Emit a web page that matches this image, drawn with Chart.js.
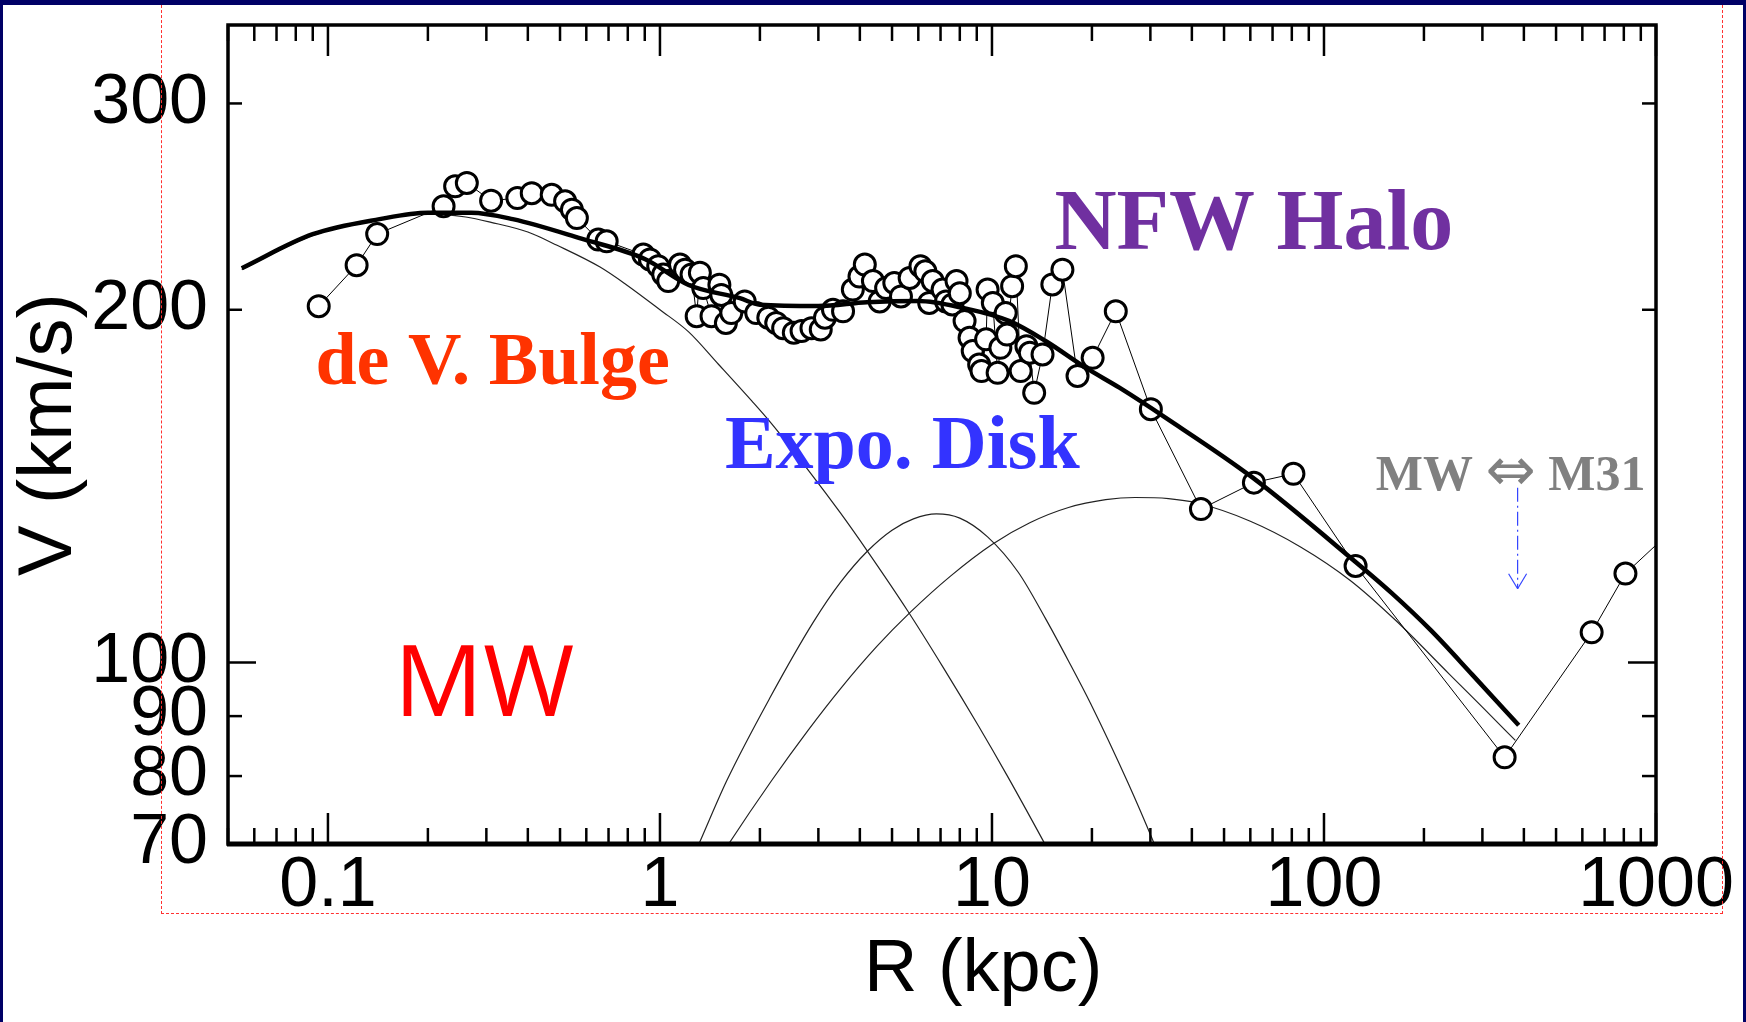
<!DOCTYPE html>
<html>
<head>
<meta charset="utf-8">
<script src="https://cdn.jsdelivr.net/npm/chart.js@4.4.1/dist/chart.umd.min.js"></script>
<style>
  html, body { margin: 0; padding: 0; background: #fff; }
  #frame { position: relative; width: 1746px; height: 1022px; overflow: hidden; background: #fff; }
  #chart { position: absolute; left: 0; top: 0; }
  .navy { position: absolute; background: #000066; }
  #dash { position: absolute; left: 161px; top: -10px; width: 1562px; height: 924px;
          border: 1px dashed #ff3030; box-sizing: border-box; pointer-events: none; }
</style>
</head>
<body>
<div id="frame">
  <canvas id="chart" width="1746" height="1022"></canvas>
  <div id="dash"></div>
  <div class="navy" style="left:0;top:0;width:1746px;height:5px"></div>
  <div class="navy" style="left:0;top:0;width:3px;height:1022px"></div>
  <div class="navy" style="right:0;top:0;width:3px;height:1022px"></div>
</div>
<script>
// observed rotation curve (R in kpc, V in km/s)
const obsR = [0.0938, 0.122, 0.1407, 0.223, 0.2416, 0.262, 0.31, 0.372, 0.411, 0.472, 0.518, 0.543, 0.562,
  0.652, 0.691, 0.891, 0.933, 0.988, 1.023, 1.059, 1.149, 1.19, 1.245, 1.29, 1.319, 1.35, 1.43, 1.51, 1.53,
  1.58, 1.64, 1.8, 1.95, 2.12, 2.24, 2.35, 2.53, 2.67, 2.86, 3.05, 3.14, 3.32, 3.56, 3.81, 3.99, 4.14, 4.38,
  4.59, 4.8, 5.08, 5.32, 5.65, 6.09, 6.3, 6.47, 6.63, 7.1, 7.27, 7.6, 7.82, 8.0, 8.27, 8.56, 8.75, 9.15, 9.3,
  9.6, 9.7, 10.06, 10.4, 10.6, 11.0, 11.1, 11.5, 11.8, 12.2, 12.7, 13.0, 13.4, 14.2, 15.2, 16.3, 18.1, 20.1,
  23.6, 30.1, 42.6, 61.5, 80.9, 124.5, 350, 640, 809, 1300];
const obsV = [201.4, 218.3, 232.1, 245.1, 254.9, 256.6, 247.8, 249.1, 251.5, 250.7, 247.5, 243.5, 239.5,
  229.6, 228.8, 222.9, 220.8, 217.9, 214.4, 211.6, 218.6, 216.4, 214.4, 197.5, 215.1, 208.7, 197.5, 210.1, 205.9,
  194.9, 198.7, 203.3, 198.7, 196.9, 194.9, 192.9, 191.2, 191.8, 192.9, 192.4, 196.9, 200.0, 199.4, 208.1, 213.5, 218.6, 211.6,
  203.3, 208.7, 210.8, 205.3, 212.9, 217.9, 215.7, 202.7, 211.6, 208.1, 203.3, 202.1, 211.6, 206.6, 195.6, 189.3, 184.4, 179.6, 177.3,
  188.7, 208.1, 202.7, 176.7, 185.6, 198.7, 190.5, 209.5, 217.9, 177.3, 186.2, 183.8, 169.9, 183.2, 210.2, 216.4, 175.6, 182,
  199.4, 164.5, 135.2, 142.4, 144.9, 120.9, 83, 106.1, 119.1, 135];

// total model curve
const totalR = [0.055, 0.09, 0.143, 0.2, 0.27, 0.36, 0.58, 0.9, 1.22, 1.74, 2.0, 3.0, 4.2, 6.0, 8.2, 11.3, 14.5,
  19.2, 24.2, 33.3, 61, 123, 160, 210, 280, 386];
const totalV = [217, 232, 239, 242, 242, 239, 230, 221, 210, 204.6, 202, 201.5, 203, 203.5, 200.7, 195.6, 188.1,
  178.4, 171.6, 161.8, 143.8, 122.2, 114.6, 106.5, 97.6, 88.4];

// components
const bulgeR = [0.055, 0.09, 0.14, 0.2, 0.26, 0.31, 0.4, 0.49, 0.66, 0.79, 1.0, 1.22, 1.5, 1.89, 2.14, 2.8, 3.5,
  4.22, 5.57, 7.15, 9.1, 11.1, 14.2, 16];
const bulgeV = [216.5, 231.5, 238.5, 241.5, 240, 237.5, 233, 227, 217.5, 210.2, 200, 191.5, 179.7, 167.2, 160.6, 145.9, 134.1,
  124.4, 110.7, 98.9, 88.3, 80.1, 70.6, 66.3];
const diskR = [1.2, 1.31, 1.59, 2.14, 2.9, 3.5, 4.22, 5.0, 5.8, 6.8, 8.0, 9.7, 12, 14.5, 17, 19.8, 25.7, 30.7, 33];
const diskV = [66.2, 70, 79.3, 93.2, 108.3, 117.1, 124.5, 129.7, 132.6, 133.9, 132.8, 128.0, 119.4, 109.0, 100.3,
  92.3, 78.9, 70.2, 66.7];
const haloR = [1.45, 1.61, 2.17, 2.8, 3.5, 4.5, 5.7, 7.5, 10, 13, 17, 22, 27, 34, 41.5, 60, 85, 120, 164, 238, 300, 377];
const haloV = [66.8, 70, 79.3, 87.6, 95, 103.2, 110.5, 118.5, 126.1, 131.6, 135.6, 137.7, 138.3, 138, 136.8, 132,
  125.5, 117.5, 108.7, 97.8, 91.6, 85.8];

const xTickLabels = [0.1, 1, 10, 100, 1000];
const yTickLabels = [70, 80, 90, 100, 200, 300];

const serifBold = (px) => `bold ${px}px "Liberation Serif", serif`;
const notes = [
  { parts: ['de V. Bulge'], r: 0.0917, v: 172.9, color: '#ff3300', font: serifBold(74) },
  { parts: ['Expo. Disk'], r: 1.569, v: 146.6, color: '#3333ff', font: serifBold(76) },
  { parts: ['NFW Halo'], r: 15.42, v: 225.3, color: '#7030a0', font: serifBold(86) },
  { parts: ['MW ', '\u21D4', ' M31'], r: 143.3, v: 140.4, color: '#808080', font: serifBold(50),
    altFont: '60px "DejaVu Sans", sans-serif' },
  { parts: ['MW'], r: 0.158, v: 90.1, color: '#ff0000', font: '99px "Open Sans", sans-serif' }
];
const arrow = { r: 383, vFrom: 141, vTo: 115.6 };

const pts = (rs, vs) => rs.map((r, i) => ({ x: r, y: vs[i] }));

const axisFrame = {
  id: 'axisFrame',
  afterDatasetsDraw(chart) {
    const { ctx, chartArea: a, scales: { x, y } } = chart;
    const seg = (x1, y1, x2, y2) => { ctx.beginPath(); ctx.moveTo(x1, y1); ctx.lineTo(x2, y2); ctx.stroke(); };
    ctx.save();
    ctx.strokeStyle = '#000';
    ctx.lineWidth = 2.5;
    for (let e = -2; e <= 3; e++) {
      for (let m = 1; m <= 9; m++) {
        const v = m * Math.pow(10, e);
        if (v < x.min || v > x.max) continue;
        const px = x.getPixelForValue(v);
        const len = m === 1 ? 31 : 16;
        seg(px, a.bottom, px, a.bottom - len);
        seg(px, a.top, px, a.top + len);
      }
    }
    for (let e = 1; e <= 2; e++) {
      for (let m = 1; m <= 9; m++) {
        const v = m * Math.pow(10, e);
        if (v < y.min || v > y.max) continue;
        const py = y.getPixelForValue(v);
        const len = m === 1 ? 28 : 14;
        seg(a.left, py, a.left + len, py);
        seg(a.right, py, a.right - len, py);
      }
    }
    ctx.lineWidth = 3.5;
    ctx.strokeRect(a.left, a.top, a.width, a.height);
    ctx.lineWidth = 5;
    seg(a.left - 1, a.bottom, a.right + 1, a.bottom);

    // labels (the double arrow glyph is drawn in a font that has a wide one)
    ctx.textAlign = 'left';
    ctx.textBaseline = 'alphabetic';
    for (const n of notes) {
      let cx = x.getPixelForValue(n.r);
      const cy = y.getPixelForValue(n.v);
      ctx.fillStyle = n.color;
      for (const t of n.parts) {
        ctx.font = t === '\u21D4' ? n.altFont : n.font;
        ctx.fillText(t, cx, cy);
        cx += ctx.measureText(t).width;
      }
    }

    // MW <-> M31 arrow
    const ax = x.getPixelForValue(arrow.r);
    const y0 = y.getPixelForValue(arrow.vFrom);
    const y1 = y.getPixelForValue(arrow.vTo);
    ctx.strokeStyle = '#3344ff';
    ctx.lineWidth = 1.2;
    ctx.setLineDash([14, 4, 2, 4]);
    seg(ax, y0, ax, y1);
    ctx.setLineDash([]);
    seg(ax - 9, y1 - 15, ax, y1);
    seg(ax + 9, y1 - 15, ax, y1);
    ctx.restore();
  }
};

new Chart(document.getElementById('chart'), {
  type: 'line',
  data: {
    datasets: [
      { label: 'Total', data: pts(totalR, totalV), borderColor: '#000', borderWidth: 4.5,
        pointRadius: 0, cubicInterpolationMode: 'monotone', order: 0 },
      { label: 'Observed', data: pts(obsR, obsV), borderColor: '#000', borderWidth: 1,
        pointRadius: 10.5, pointBorderWidth: 3, pointBorderColor: '#000', pointBackgroundColor: '#fff',
        tension: 0, order: 1 },
      { label: 'Bulge', data: pts(bulgeR, bulgeV), borderColor: '#222', borderWidth: 1.2,
        pointRadius: 0, cubicInterpolationMode: 'monotone', order: 2 },
      { label: 'Disk', data: pts(diskR, diskV), borderColor: '#222', borderWidth: 1.2,
        pointRadius: 0, cubicInterpolationMode: 'monotone', order: 3 },
      { label: 'Halo', data: pts(haloR, haloV), borderColor: '#222', borderWidth: 1.2,
        pointRadius: 0, cubicInterpolationMode: 'monotone', order: 4 }
    ]
  },
  options: {
    responsive: false,
    animation: false,
    events: [],
    layout: { padding: { top: 25, right: 90, left: 0, bottom: 0 } },
    plugins: { legend: { display: false }, tooltip: { enabled: false } },
    scales: {
      x: {
        type: 'logarithmic', min: 0.05, max: 1000,
        grid: { display: false, drawTicks: false }, border: { display: false },
        ticks: { autoSkip: false, maxRotation: 0, padding: 1, color: '#000',
          font: { family: '"Liberation Sans", Arial, sans-serif', size: 70 },
          callback: (v) => String(v) },
        // leading spaces nudge the title right, as in the original slide
        title: { display: true, text: '    R (kpc)', color: '#000',
          font: { family: '"Liberation Sans", Arial, sans-serif', size: 74 }, padding: { top: 0, bottom: 7 } },
        afterBuildTicks: (s) => { s.ticks = xTickLabels.map((v) => ({ value: v })); },
        afterFit: (s) => { s.height = 178; s.paddingLeft = 0; s.paddingRight = 0; }
      },
      y: {
        type: 'logarithmic', min: 70, max: 350,
        grid: { display: false, drawTicks: false }, border: { display: false },
        ticks: { autoSkip: false, padding: 20, color: '#000',
          font: { family: '"Liberation Sans", Arial, sans-serif', size: 70 },
          callback: (v) => String(v) },
        title: { display: true, text: 'V (km/s)', color: '#000',
          font: { family: '"Liberation Sans", Arial, sans-serif', size: 76 }, padding: { top: 4, bottom: 0 } },
        afterBuildTicks: (s) => { s.ticks = yTickLabels.map((v) => ({ value: v })); },
        afterFit: (s) => { s.width = 228; s.paddingTop = 0; s.paddingBottom = 0; }
      }
    }
  },
  plugins: [axisFrame]
});
</script>
</body>
</html>
